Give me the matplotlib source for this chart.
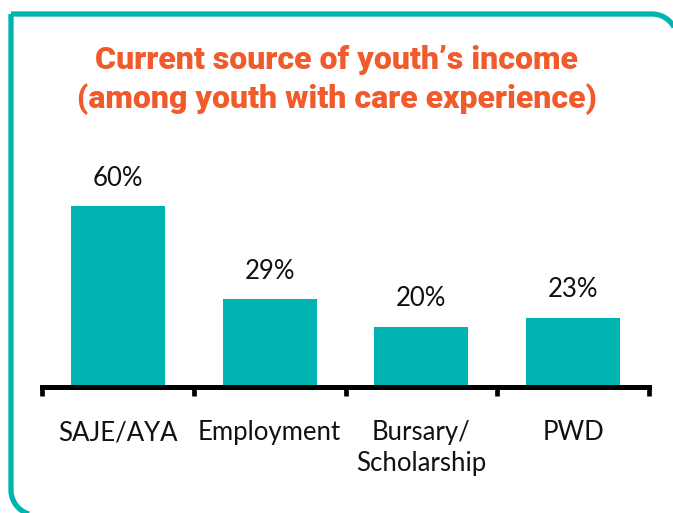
import numpy as np
import matplotlib.pyplot as plt

categories = ["SAJE/AYA", "Employment", "Bursary/\nScholarship", "PWD"]
values = [60, 29, 20, 23]

TEAL = "#00B5B1"
ORANGE = "#F15A2B"
W, H = 673, 513

fig = plt.figure(figsize=(W / 100, H / 100), dpi=100)
fig.patch.set_facecolor("white")


def arc(cx, cy, r, a0, a1):
    t = np.radians(np.linspace(a0, a1, 30))
    return list(cx + r * np.cos(t)), list(cy + r * np.sin(t))


# frame in pixel coords (y down): square top-left, rounded top-right and
# bottom-left, right and bottom edges running off the canvas
L, T, R, B, rad = 11, 14, 677, 515, 25
xs, ys = [L, R - rad], [T, T]
ax_, ay_ = arc(R - rad, T + rad, rad, -90, 0)
xs += ax_; ys += ay_
xs += [R]; ys += [B + 20]
fx, fy = [L + rad + 30, L + rad], [B, B]
bx, by = arc(L + rad, B - rad, rad, 90, 180)
fx += bx; fy += by
fx += [L]; fy += [T]
for px, py in ((xs, ys), (fx, fy)):
    fig.add_artist(plt.Line2D(np.array(px) / W, 1 - np.array(py) / H,
                              color=TEAL, lw=3.8, solid_capstyle="butt",
                              solid_joinstyle="miter",
                              transform=fig.transFigure))

title_kw = dict(ha="center", va="center", fontsize=23, fontweight="heavy",
                color=ORANGE, family="Roboto")
fig.text(0.5, 1 - 60 / H, "Current source of youth\u2019s income", **title_kw)
fig.text(0.5, 1 - 99 / H, "(among youth with care experience)", **title_kw)

ax = fig.add_axes([42 / W, 126 / H, 607 / W, 302 / H])
x = [i + 0.5 for i in range(len(values))]
ax.bar(x, values, width=0.62, color=TEAL, zorder=2)
ax.set_xlim(0, len(values))
ax.set_ylim(0, 100)

for xi, v in zip(x, values):
    ax.text(xi, v + 9.2, f"{v}%", ha="center", va="center",
            fontsize=18.5, family="Lato", color="#111111")

for s in ("top", "right", "left"):
    ax.spines[s].set_visible(False)
ax.spines["bottom"].set_linewidth(3.6)
ax.spines["bottom"].set_color("black")
ax.set_yticks([])
ax.set_xticks(range(len(values) + 1))
ax.set_xticklabels([])
ax.tick_params(axis="x", direction="out", length=6.5, width=3.4, color="black")

for xi, c in zip(x, categories):
    ax.text(xi, -11.0, c, ha="center", va="top", fontsize=18.5,
            family="Lato", color="#111111", linespacing=1.3)

fig.savefig("out.png", dpi=100, facecolor="white")
